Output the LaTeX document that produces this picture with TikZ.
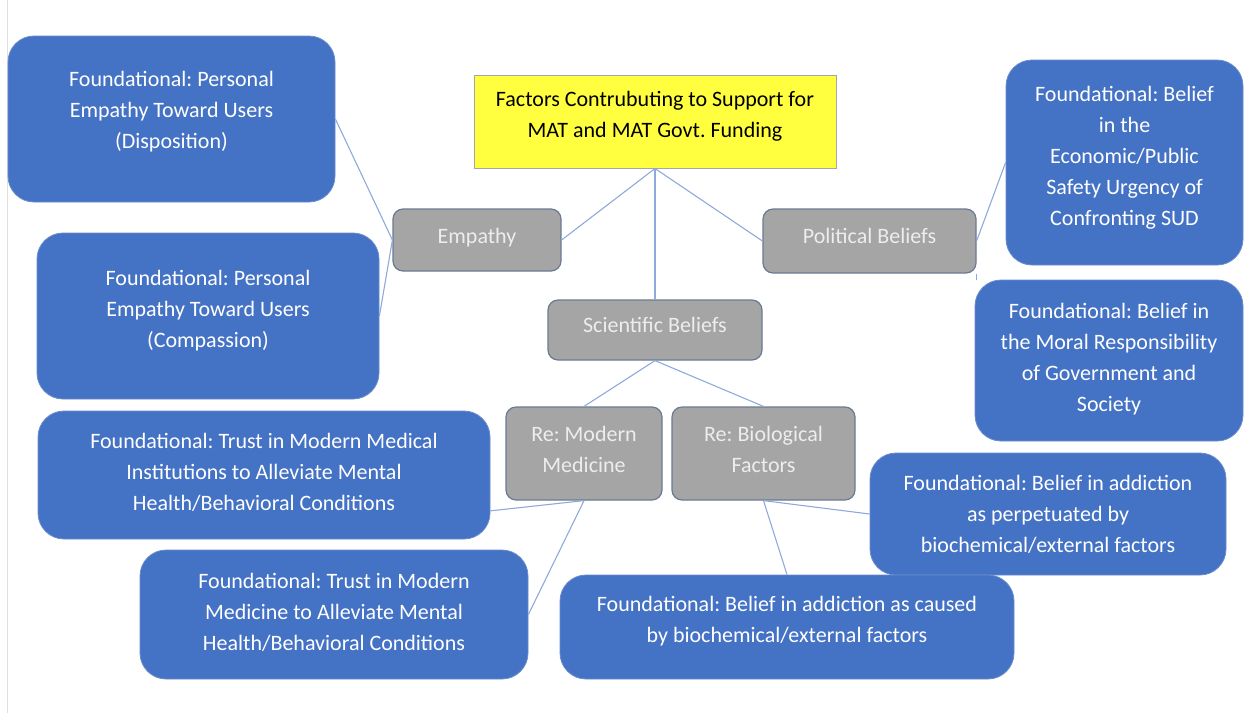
\documentclass[tikz,border=0pt]{standalone}
\usepackage{fontspec}
\setmainfont{Carlito}
\frenchspacing
\usetikzlibrary{positioning}

\definecolor{fndblue}{HTML}{4472C4}
\definecolor{fndedge}{HTML}{6A8CCB}
\definecolor{catgray}{HTML}{A5A5A5}
\definecolor{catedge}{HTML}{6B7A92}
\definecolor{rootyellow}{HTML}{FFFF40}
\definecolor{linkblue}{HTML}{8EA9DB}

\tikzset{
  base/.style={align=center, inner sep=4pt, font=\fontsize{22}{31}\selectfont},
  rootbox/.style={base, rectangle, fill=rootyellow, draw=gray!70, line width=1pt, text=black},
  catbox/.style={base, rectangle, rounded corners=10pt, fill=catgray, draw=catedge, line width=1.2pt, text=white!93!black},
  fndbox/.style={base, rectangle, rounded corners=26pt, fill=fndblue, draw=fndedge, line width=0.8pt, text=white},
  link/.style={draw=linkblue, line width=1.1pt}
}

\begin{document}
\begin{tikzpicture}[x=1pt,y=-1pt]
  \useasboundingbox (0,0) rectangle (1244,713);
  \draw[gray!25] (7,0)--(7,713);
  %
  \node[rootbox, minimum width=362, minimum height=93] (root) at (655,121.5)
    {Factors Contrubuting to Support for\\MAT and MAT Govt. Funding\\[-16pt]};
  %
  \node[catbox, minimum width=168, minimum height=62] (emp) at (477,240) {Empathy\\[-23pt]};
  \node[catbox, minimum width=213, minimum height=64] (pol) at (869.5,241) {Political Beliefs\\[-21pt]};
  \node[catbox, minimum width=214, minimum height=60] (sci) at (655,330) {Scientific Beliefs\\[-21pt]};
  \node[catbox, minimum width=156, minimum height=93] (remod) at (584,453.5) {Re: Modern\\Medicine\\[-22pt]};
  \node[catbox, minimum width=183, minimum height=93] (rebio) at (763.5,453.5) {Re: Biological\\Factors\\[-22pt]};
  %
  \node[fndbox, minimum width=327, minimum height=166] (dispo) at (171.5,119)
    {Foundational: Personal\\Empathy Toward Users\\(Disposition)\\[-13pt]};
  \node[fndbox, minimum width=342, minimum height=166] (compa) at (208,316)
    {Foundational: Personal\\Empathy Toward Users\\(Compassion)\\[-16pt]};
  \node[fndbox, minimum width=237, minimum height=205] (econ) at (1124.5,162.5)
    {Foundational: Belief\\in the\\Economic/Public\\Safety Urgency of\\Confronting SUD\\[-17pt]};
  \node[fndbox, minimum width=268, minimum height=161] (moral) at (1109,360.5)
    {Foundational: Belief in\\the Moral Responsibility\\of Government and\\Society\\[-24pt]};
  \node[fndbox, minimum width=452, minimum height=128] (inst) at (264,475)
    {Foundational: Trust in Modern Medical\\Institutions to Alleviate Mental\\Health/Behavioral Conditions\\[-24pt]};
  \node[fndbox, minimum width=388, minimum height=129] (medic) at (334,614.5)
    {Foundational: Trust in Modern\\Medicine to Alleviate Mental\\Health/Behavioral Conditions\\[-25pt]};
  \node[fndbox, minimum width=356, minimum height=122] (perp) at (1048,514)
    {Foundational: Belief in addiction\\as perpetuated by\\biochemical/external factors};
  \node[fndbox, minimum width=454, minimum height=104] (cause) at (787,627)
    {Foundational: Belief in addiction as caused\\by biochemical/external factors\\[-16pt]};
  %
  \draw[link] (root.south) -- (emp.east);
  \draw[link] (root.south) -- (sci.north);
  \draw[link] (root.south) -- (pol.west);
  \draw[link] (emp.west) -- (dispo.east);
  \draw[link] (emp.west) -- (compa.east);
  \draw[link] (pol.east) -- (econ.west);
  \draw[link] (pol.south east) -- (pol.south east |- moral.north);
  \draw[link] (sci.south) -- (remod.north);
  \draw[link] (sci.south) -- (rebio.north);
  \draw[link] (remod.south) -- (inst.-9);
  \draw[link] (remod.south) -- (medic.east);
  \draw[link] (rebio.south) -- (perp.west);
  \draw[link] (rebio.south) -- (cause.north);
\end{tikzpicture}
\end{document}
